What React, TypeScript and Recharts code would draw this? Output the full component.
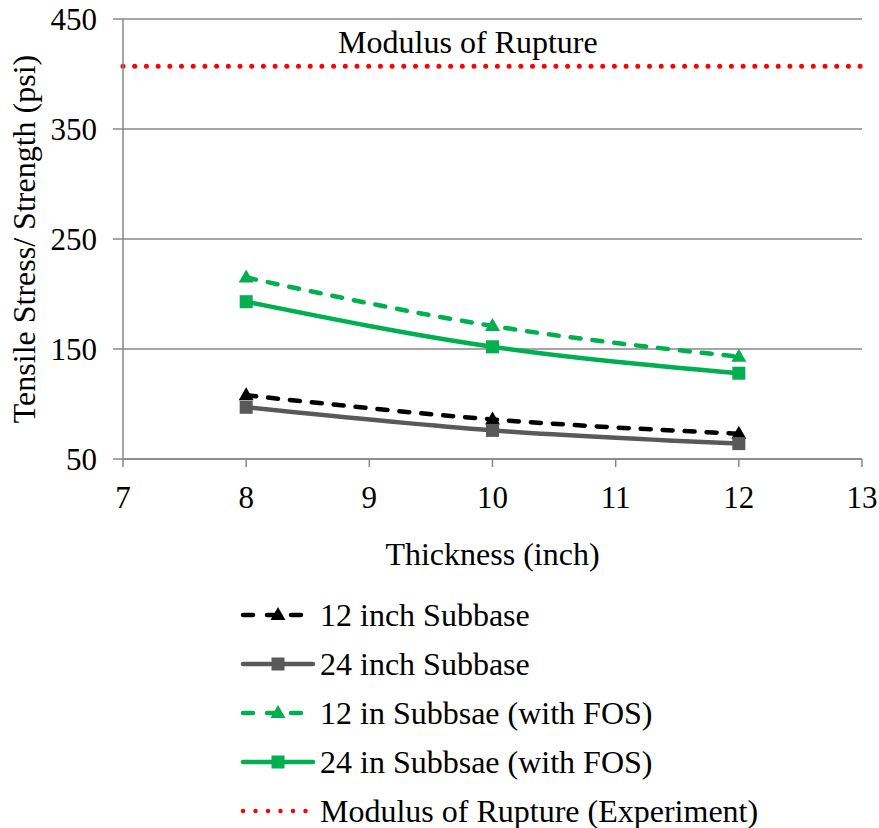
import { Label, Line, LineChart, CartesianGrid, ReferenceDot, XAxis, YAxis } from "recharts";

const FONT = "'Liberation Serif', 'DejaVu Serif', 'Noto Serif', 'Times New Roman', serif";
const GRID = "#878787";

// thickness of slab (inch)
const thickness = [8, 10, 12];
const sub12 = [108, 86, 73];
const sub24 = [97, 76, 64];
const sub12Fos = [215, 171, 143];
const sub24Fos = [193, 152, 128];
const modulusOfRupture = 407;

const xTicks = [7, 8, 9, 10, 11, 12, 13];
const yTicks = [50, 150, 250, 350, 450];

const rows = [7, ...thickness, 13].map((x) => {
  const i = thickness.indexOf(x);
  return {
    x,
    sub12: i >= 0 ? sub12[i] : undefined,
    sub24: i >= 0 ? sub24[i] : undefined,
    sub12Fos: i >= 0 ? sub12Fos[i] : undefined,
    sub24Fos: i >= 0 ? sub24Fos[i] : undefined,
    mor: modulusOfRupture,
  };
});

type Series = {
  key: string;
  name: string;
  color: string;
  dash?: string;
  marker: "triangle" | "square" | "none";
};

const series: Series[] = [
  { key: "sub12", name: "12 inch Subbase", color: "#000000", dash: "10 12", marker: "triangle" },
  { key: "sub24", name: "24 inch Subbase", color: "#595959", marker: "square" },
  { key: "sub12Fos", name: "12 in Subbsae (with FOS)", color: "#00B050", dash: "10 12", marker: "triangle" },
  { key: "sub24Fos", name: "24 in Subbsae (with FOS)", color: "#00B050", marker: "square" },
  { key: "mor", name: "Modulus of Rupture (Experiment)", color: "#FF0000", dash: "0 11.7", marker: "none" },
];

function Marker({ cx, cy, kind, color }: { cx?: number; cy?: number; kind: string; color: string }) {
  if (cx == null || cy == null || Number.isNaN(cy)) return null;
  if (kind === "square") {
    return <rect x={cx - 6.5} y={cy - 6.5} width={13} height={13} fill={color} />;
  }
  if (kind === "triangle") {
    return <polygon points={`${cx},${cy - 8} ${cx + 7.5},${cy + 5} ${cx - 7.5},${cy + 5}`} fill={color} />;
  }
  return null;
}

function LegendIcon({ s }: { s: Series }) {
  const dotted = s.marker === "none";
  return (
    <svg width={76} height={20} style={{ display: "block" }}>
      <line
        x1={3}
        y1={10}
        x2={dotted ? 70 : 73}
        y2={10}
        stroke={s.color}
        strokeWidth={4.5}
        strokeDasharray={dotted ? "0 12.5" : s.dash ? "10 14" : undefined}
        strokeLinecap="round"
      />
      <Marker cx={38} cy={10} kind={s.marker} color={s.color} />
    </svg>
  );
}

export default function App() {
  return (
    <div style={{ position: "absolute", left: 0, top: 0, width: 879, height: 828, background: "#fff" }}>
      <LineChart width={879} height={600} data={rows} margin={{ top: 19, right: 17, left: 0, bottom: 31 }}>
        <CartesianGrid vertical={false} stroke={GRID} strokeWidth={1.5} />
        <XAxis
          dataKey="x"
          type="number"
          domain={[7, 13]}
          ticks={xTicks}
          height={110}
          tickSize={8}
          tickMargin={19}
          stroke={GRID}
          strokeWidth={1.5}
          tick={{ fill: "#000", fontSize: 31, fontFamily: FONT }}
        >
          <Label
            value="Thickness (inch)"
            position="insideBottom"
            offset={4}
            style={{ fill: "#000", fontSize: 32, fontFamily: FONT }}
          />
        </XAxis>
        <YAxis
          type="number"
          domain={[50, 450]}
          ticks={yTicks}
          width={123}
          tickSize={10}
          tickMargin={16}
          stroke={GRID}
          strokeWidth={1.5}
          tick={{ fill: "#000", fontSize: 31, fontFamily: FONT }}
        >
          <Label
            content={({ viewBox }: any) => {
              const cy = viewBox.y + viewBox.height / 2;
              return (
                <text
                  x={35}
                  y={cy}
                  transform={`rotate(-90 35 ${cy})`}
                  textAnchor="middle"
                  fill="#000"
                  fontSize={32}
                  fontFamily={FONT}
                >
                  Tensile Stress/ Strength (psi)
                </text>
              );
            }}
          />
        </YAxis>
        {series.map((s) => (
          <Line
            key={s.key}
            dataKey={s.key}
            name={s.name}
            type={s.marker === "none" ? "linear" : "monotone"}
            stroke={s.color}
            strokeWidth={s.marker === "none" ? 5 : 4.5}
            strokeDasharray={s.dash}
            strokeLinecap="round"
            dot={(p: any) => <Marker key={`${s.key}-${p.index}`} cx={p.cx} cy={p.cy} kind={s.marker} color={s.color} />}
            activeDot={false}
            isAnimationActive={false}
          />
        ))}
        <ReferenceDot
          x={9.8}
          y={modulusOfRupture}
          r={0}
          fill="none"
          stroke="none"
          label={{
            value: "Modulus of Rupture",
            position: "top",
            offset: 13,
            fill: "#000",
            fontSize: 32,
            fontFamily: FONT,
          }}
        />
      </LineChart>
      <div style={{ position: "absolute", left: 240, top: 590, fontFamily: FONT, fontSize: 32, color: "#000" }}>
        {series.map((s) => (
          <div key={s.key} style={{ display: "flex", alignItems: "center", height: 49 }}>
            <LegendIcon s={s} />
            <span style={{ marginLeft: 4, lineHeight: "30px", whiteSpace: "nowrap" }}>{s.name}</span>
          </div>
        ))}
      </div>
    </div>
  );
}
